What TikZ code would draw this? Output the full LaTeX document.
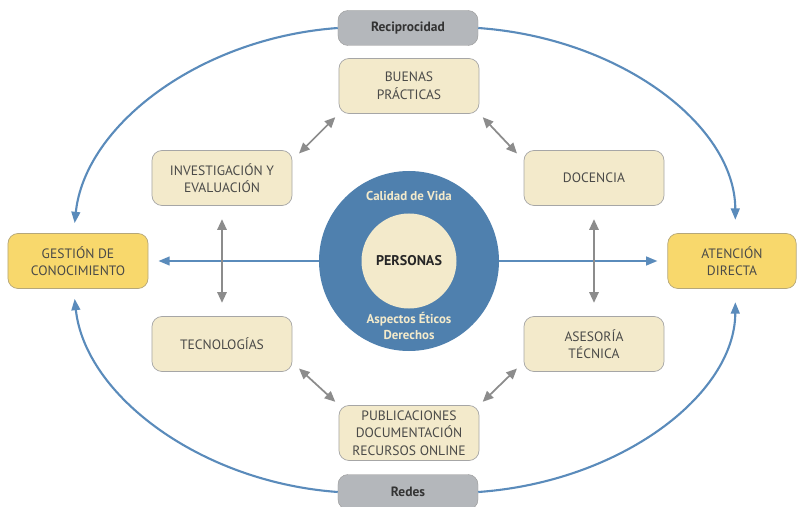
\documentclass[tikz,border=0pt]{standalone}
\usepackage{fontspec}
\setmainfont{PT Sans}
\usepackage{xcolor}
\usetikzlibrary{arrows.meta}
\definecolor{beige}{HTML}{F3EACB}
\definecolor{gold}{HTML}{F8D86C}
\definecolor{pill}{HTML}{B4B7BB}
\definecolor{azul}{HTML}{4F80AE}
\definecolor{flecha}{HTML}{5A8BBB}
\definecolor{texto}{HTML}{4A4A48}
\begin{document}
\begin{tikzpicture}[
  x=0.03cm, y=-0.03cm,
  box/.style={draw=gray!70, fill=beige, line width=0.6pt, rounded corners=3mm, minimum width=4.2cm, minimum height=1.65cm, align=center, font=\fontsize{11.6}{15}\selectfont, text=texto},
  key/.style={box, fill=gold, draw=gold!60!black!70, minimum width=4.2cm},
  tag/.style={draw=gray!80, fill=pill, rounded corners=3mm, minimum width=4.2cm, minimum height=1.05cm, font=\fontsize{11.5}{13}\selectfont\bfseries, text=black!80},
  ida/.style={-{Triangle[length=3.4mm,width=2.6mm]}, draw=flecha, line width=1.8pt},
  doble/.style={{Triangle[length=3.2mm,width=2.8mm]}-{Triangle[length=3.2mm,width=2.8mm]}, draw=gray!90, line width=1.5pt},
]
\useasboundingbox (0,0) rectangle (802,507);

% etiquetas del anillo
\node[tag] (recip) at (408,28)  {Reciprocidad};
\node[tag] (redes) at (408,492) {Redes};

% centro
\node[circle, fill=azul, minimum size=5.4cm] (ring) at (409,261) {};
\node[circle, fill=beige, minimum size=2.85cm, font=\fontsize{12}{14}\selectfont\bfseries, text=black!85] (pers) at (409,261) {PERSONAS};
\node[font=\fontsize{11}{13}\selectfont\bfseries, text=beige] (cal) at (409,196) {Calidad de Vida};
\node[font=\fontsize{11}{13}\selectfont\bfseries, text=beige, align=center] (asp) at (409,326) {Aspectos Éticos\\Derechos};

% cajas
\node[box] (buenas) at (409,86)  {BUENAS\\PRÁCTICAS};
\node[box] (inves)  at (222,178) {INVESTIGACIÓN Y\\EVALUACIÓN};
\node[box] (doce)   at (594,178) {DOCENCIA};
\node[box] (tecno)  at (222,344) {TECNOLOGÍAS};
\node[box] (ases)   at (594,344) {ASESORÍA\\TÉCNICA};
\node[box] (publi)  at (409,433) {PUBLICACIONES\\DOCUMENTACIÓN\\RECURSOS ONLINE};
\node[key] (gest)   at (78,261)  {GESTIÓN DE\\CONOCIMIENTO};
\node[key, minimum width=3.85cm] (aten) at (732,261) {ATENCIÓN\\DIRECTA};

% flechas horizontales
\draw[ida] (ring.west) -- ([xshift=3mm]gest.east);
\draw[ida] (ring.east) -- ([xshift=-3mm]aten.west);

% flechas grises
\draw[doble] ([yshift=-4mm]inves.south) -- ([yshift=4mm]tecno.north);
\draw[doble] ([yshift=-4mm]doce.south) -- ([yshift=4mm]ases.north);
\draw[doble] ([shift={(2mm,-1mm)}]inves.north east) -- ([shift={(-1mm,-1mm)}]buenas.south west);
\draw[doble] ([shift={(1mm,-1mm)}]buenas.south east) -- ([shift={(-2mm,-1mm)}]doce.north west);
\draw[doble] ([shift={(2mm,1mm)}]tecno.south east) -- ([shift={(-1mm,1mm)}]publi.north west);
\draw[doble] ([shift={(1mm,1mm)}]publi.north east) -- ([shift={(-2mm,1mm)}]ases.south west);

% anillo exterior
\draw[ida] (recip.west) .. controls (200,38) and (85,125) .. ([shift={(-1mm,3mm)}]gest.north);
\draw[ida] (recip.east) .. controls (620,38) and (735,125) .. ([shift={(1mm,4mm)}]aten.north);
\draw[ida] (redes.west) .. controls (200,482) and (85,395) .. ([shift={(-1mm,-3mm)}]gest.south);
\draw[ida] (redes.east) .. controls (620,482) and (735,395) .. ([shift={(1mm,-4mm)}]aten.south);
\end{tikzpicture}
\end{document}
